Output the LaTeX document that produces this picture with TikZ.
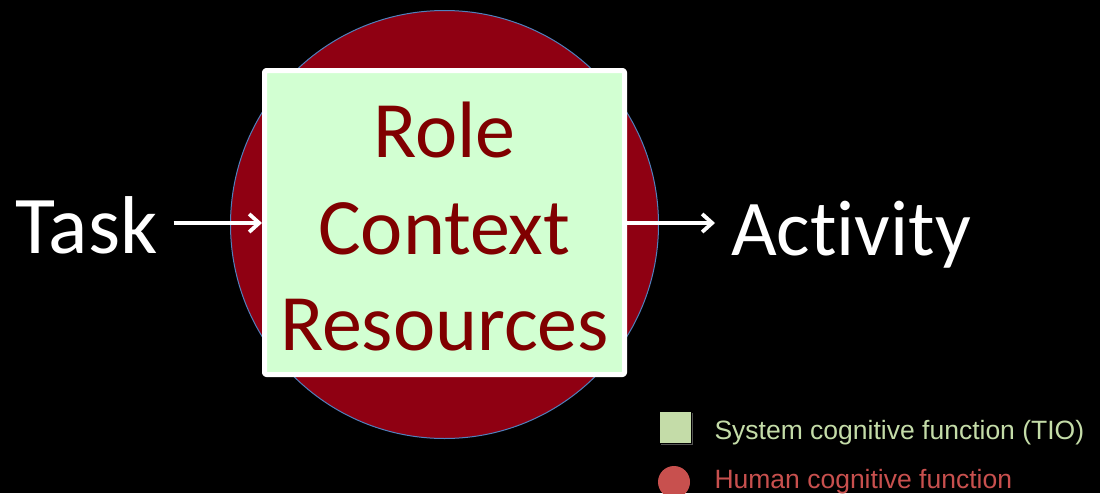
\documentclass[tikz,border=0pt]{standalone}
\usepackage{fontspec}
\setmainfont{Carlito}[Ligatures=NoCommon]
\newfontfamily\legfont{Liberation Sans}
\usetikzlibrary{arrows.meta,shadows}
\definecolor{humred}{HTML}{8F0012}
\definecolor{rimblue}{HTML}{4F81BD}
\definecolor{sysgreen}{HTML}{D2FFD2}
\definecolor{wordred}{HTML}{800000}
\definecolor{leggreen}{HTML}{C4DCA8}
\definecolor{legred}{HTML}{C8504E}
\begin{document}
\begin{tikzpicture}[x=1pt,y=-1pt,join=round,
  arr/.style={line width=3.8pt,white,-{Straight Barb[length=10pt,width=18pt,line width=3.8pt]}},
  big/.style={white,inner sep=0pt,font=\fontsize{82}{90}\selectfont},
  leg/.style={anchor=base west,font=\legfont\fontsize{26.5}{30}\selectfont}]
    \fill[black](0,0)rectangle(1100,493);
    \useasboundingbox(0,0)rectangle(1100,493);
    \draw[rimblue,fill=humred,line width=1pt](444.5,224.5)coordinate(H)circle(214);
    \node[draw=white,line width=5pt,fill=sysgreen,rounded corners=2pt,minimum width=360pt,minimum height=304pt](sys)at(444.5,222.5){};
    \node[text=wordred,align=center,font=\fontsize{80}{96.5}\selectfont](words)at(444.5,227){Role\\Context\\Resources};
    \node[big,anchor=base west](task)at(15,253){Task};
    \node[big,anchor=base west,font=\fontsize{79}{90}\selectfont](act)at(731,255){Activity};
    \draw[arr](task.east|-0,223)++(16,0)coordinate(t0)--(sys.west|-t0);
    \draw[arr](sys.east|-t0)--++(88,0)coordinate(a0);
    % legend
    \node[fill=leggreen,draw=black,line width=.6pt,minimum size=32pt,inner sep=0pt,
      drop shadow={shadow xshift=2pt,shadow yshift=-2pt,fill=gray!70}](sq)at(675,427){};
    \fill[legred](674,482)circle(16)coordinate(dot);
    \node[leg,text=leggreen]at(711,439){System cognitive function (TIO)};
    \node[leg,text=legred]at(711,488){Human cognitive function};
\end{tikzpicture}
\end{document}
